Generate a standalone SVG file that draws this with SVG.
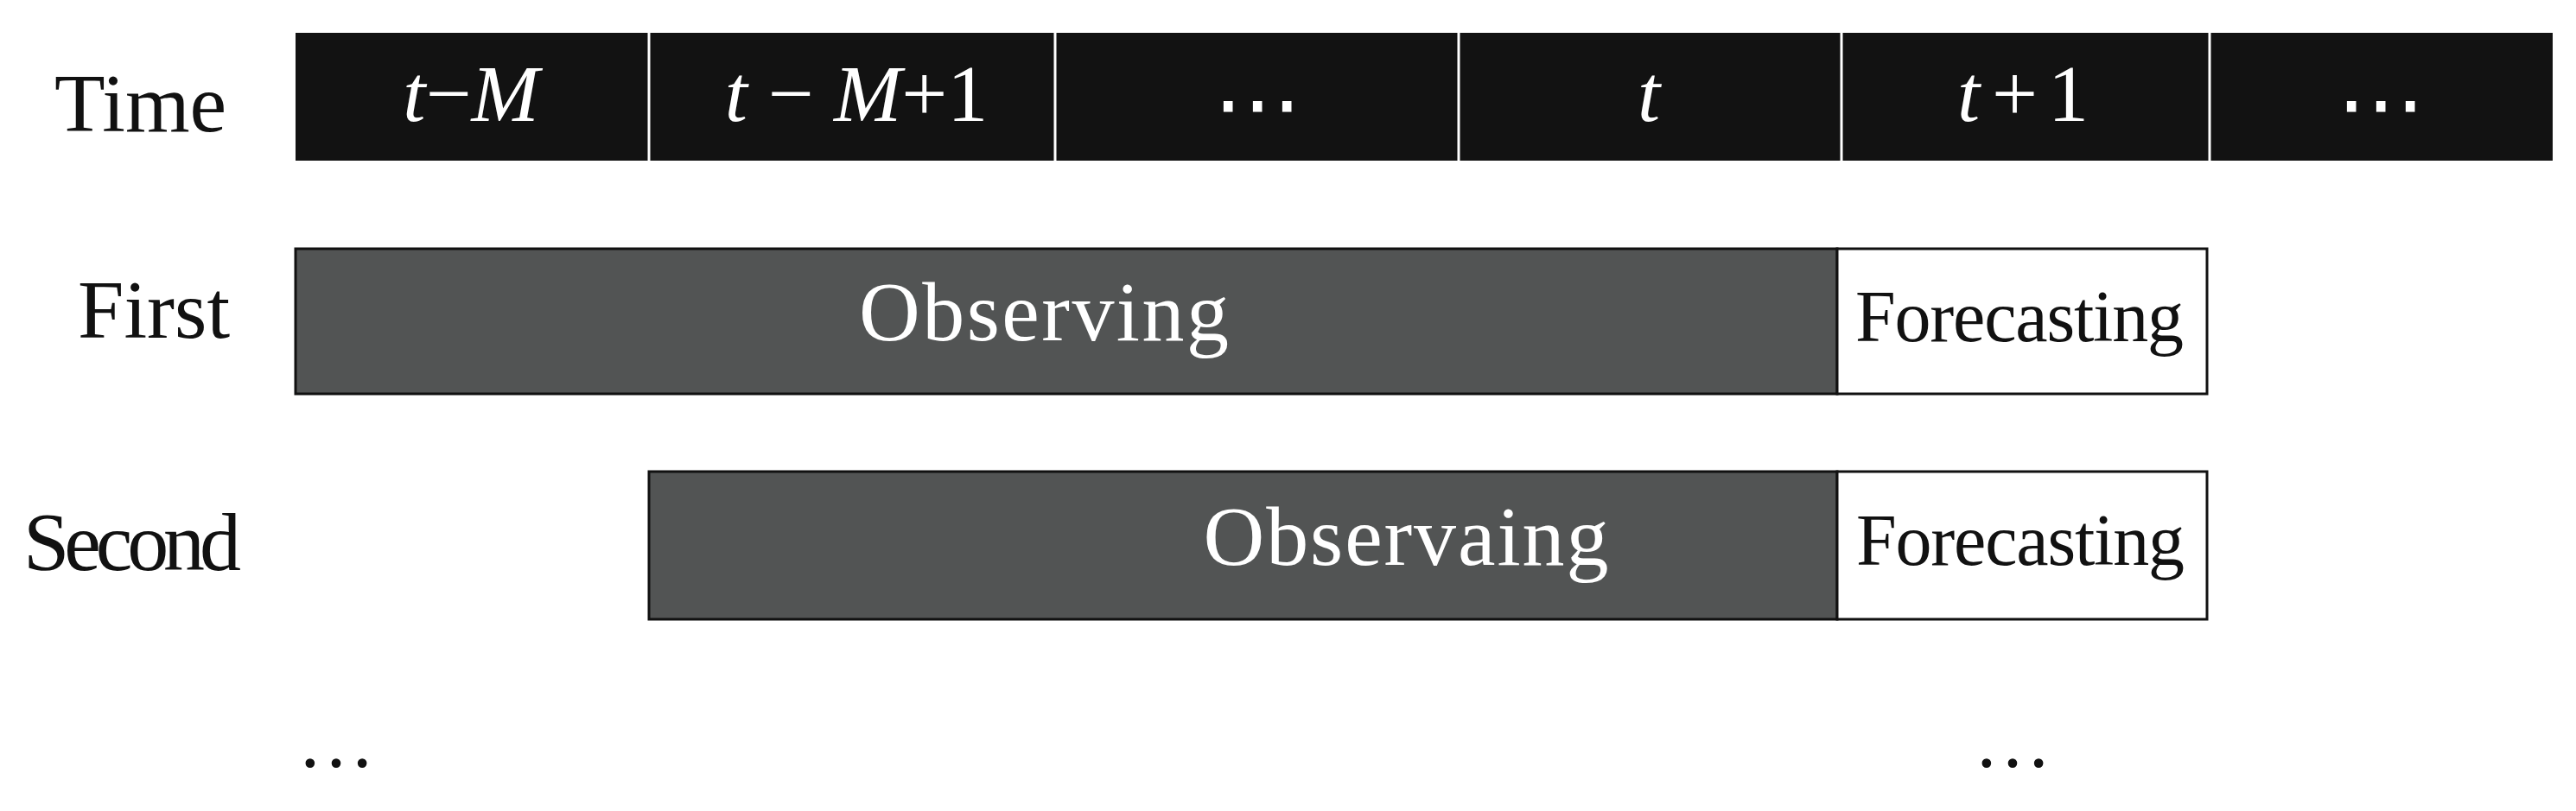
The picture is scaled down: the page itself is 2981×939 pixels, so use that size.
<svg xmlns="http://www.w3.org/2000/svg" width="2981" height="939" viewBox="0 0 2981 939">
<style>
text{font-family:"Liberation Serif","Times New Roman",serif;}
.lbl{font-size:96px;fill:#111;}
.cell{font-size:94px;fill:#fff;text-anchor:middle;}
.it{font-style:italic;}
.obs{fill:#525454;stroke:#111;stroke-width:3;}
.fc{fill:#fff;stroke:#111;stroke-width:3;}
.obst{font-size:98px;fill:#fff;text-anchor:middle;}
.fct{font-size:84px;fill:#111;text-anchor:middle;}
.dots{font-family:"DejaVu Serif","DejaVu Sans",serif;font-size:102px;fill:#fff;text-anchor:middle;}
.ell{font-size:90px;fill:#111;text-anchor:middle;}
.div{stroke:#fff;stroke-width:3;}
</style>
<rect width="2981" height="939" fill="#fff"/>
<g id="time-bar">
<rect x="342" y="38" width="2612" height="148" fill="#121212"/>
<line class="div" x1="751" y1="38" x2="751" y2="186"/>
<line class="div" x1="1221" y1="38" x2="1221" y2="186"/>
<line class="div" x1="1688" y1="38" x2="1688" y2="186"/>
<line class="div" x1="2131" y1="38" x2="2131" y2="186"/>
<line class="div" x1="2557" y1="38" x2="2557" y2="186"/>
<text class="cell" x="545" y="140"><tspan class="it">t</tspan>−<tspan class="it">M</tspan></text>
<text class="cell" x="991" y="140"><tspan class="it">t</tspan> − <tspan class="it">M</tspan>+1</text>
<text class="dots" x="1455" y="155">⋯</text>
<text class="cell" x="1908" y="140"><tspan class="it">t</tspan></text>
<text class="cell" x="2341" y="140"><tspan class="it">t</tspan><tspan dx="14">+</tspan><tspan dx="12">1</tspan></text>
<text class="dots" x="2755" y="155">⋯</text>
</g>
<g id="row-labels">
<text class="lbl" x="63" y="152">Time</text>
<text class="lbl" x="90" y="391">First</text>
<text class="lbl" x="27" y="660" textLength="252">Second</text>
</g>
<g id="first-window">
<rect class="obs" x="342" y="288" width="1784" height="168"/>
<rect class="fc" x="2126" y="288" width="428" height="168"/>
<text class="obst" x="1208" y="394" textLength="428">Observing</text>
<text class="fct" x="2337" y="395" textLength="380">Forecasting</text>
</g>
<g id="second-window">
<rect class="obs" x="751" y="546" width="1375" height="171"/>
<rect class="fc" x="2126" y="546" width="428" height="171"/>
<text class="obst" x="1627" y="654" textLength="469">Observaing</text>
<text class="fct" x="2338" y="654" textLength="380">Forecasting</text>
</g>
<g id="ellipses">
<text class="ell" x="389" y="888">…</text>
<text class="ell" x="2329" y="888">…</text>
</g>
<g id="connectors"></g>
</svg>
